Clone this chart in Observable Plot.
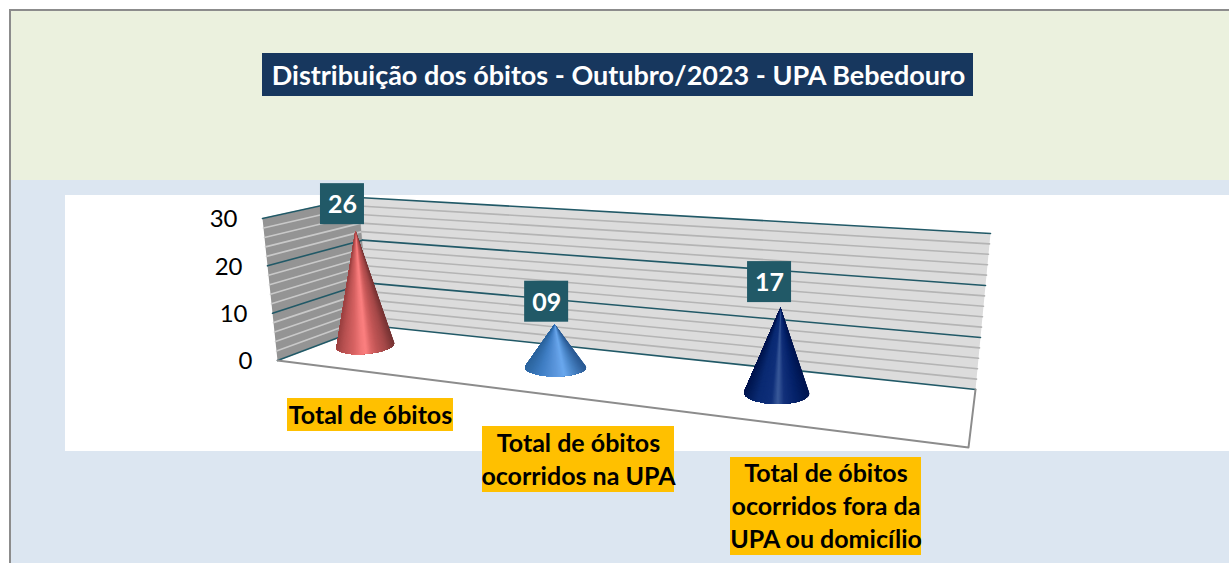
<!DOCTYPE html>
<html>
<head>
<meta charset="utf-8">
<style>html,body{margin:0;padding:0;background:#fff;overflow:hidden}svg{display:block}</style>
<script src="https://cdn.jsdelivr.net/npm/d3@7"></script>
<script src="https://cdn.jsdelivr.net/npm/@observablehq/plot@0.6"></script>
</head>
<body>
<div id="chart"></div>
<script>
const titleText = "Distribuição dos óbitos - Outubro/2023 - UPA Bebedouro";
const categories = ["Total de óbitos", "Total de óbitos\nocorridos na UPA", "Total de óbitos\nocorridos fora da\nUPA ou domicílio"];
const values = [26, 9, 17];
const valueLabels = ["26", "09", "17"];
const majorTicks = [0, 10, 20, 30];
const minorTicks = [2, 4, 6, 8, 12, 14, 16, 18, 22, 24, 26, 28];

// Layout of the perspective box (front/back, left/right, floor/top corners)
const corners = {
  fl0: [277, 360], fr0: [968, 447], bl0: [370, 325], br0: [975, 389],
  fl1: [262, 218], fr1: [985, 277], bl1: [358, 197], br1: [990, 233]
};
const coneU = [0.057, 0.3525, 0.696];
const coneDepth = 0.55;
const coneHeightFix = [0.975, 1, 0.98];
const coneRx = [29, 30.5, 32.5];
const coneRy = [8.5, 9, 11];
const coneTilt = [-0.086, 0, 0.015];
const labelDx = [-13, -8, -11];
const labelGapAboveTip = [26.5, 22.5, 25.5];
const shades = [
  [[0,"#9c4242"],[.1,"#b65050"],[.3,"#d96464"],[.42,"#f27878"],[.5,"#fc8080"],[.6,"#d86464"],[.7,"#c05555"],[.85,"#a44848"],[1,"#753333"]],
  [[0,"#2c659f"],[.25,"#3f7ec4"],[.5,"#5b96dc"],[.65,"#6aa8ee"],[.8,"#4a86c8"],[1,"#2a5a94"]],
  [[0,"#00164f"],[.2,"#0a2a72"],[.42,"#0f2f7a"],[.52,"#3a5a9a"],[.62,"#12307a"],[.8,"#05226a"],[1,"#001650"]]
];
const catBoxes = [[287,453,398,431],[482,674,426,492],[730,921,457,555]];

function lerp(a, b, t) { return [a[0] + (b[0]-a[0])*t, a[1] + (b[1]-a[1])*t]; }
// u: left→right, v: front→back, w: axis value 0–30
function project(u, v, w) {
  const c = corners, t = w / 30;
  const floor = lerp(lerp(c.fl0, c.fr0, u), lerp(c.bl0, c.br0, u), v);
  const top = lerp(lerp(c.fl1, c.fr1, u), lerp(c.bl1, c.br1, u), v);
  return lerp(floor, top, t);
}
const poly = (id, pts, extra = {}) => pts.map(p => ({id, x: p[0], y: p[1], ...extra}));

const sideWall = [project(0,0,0), project(0,1,0), project(0,1,30), project(0,0,30)];
const backWall = [project(0,1,0), project(1,1,0), project(1,1,30), project(0,1,30)];
const floorEdge = [project(0,0,0), project(1,0,0), project(1,1,0)];

const gridSeg = (w, a, b) => [a, b].map(p => project(p[0], p[1], w));
const gridRows = (ticks, pair, tag) => ticks.flatMap(w => poly(tag + w, gridSeg(w, pair[0], pair[1])));
const sideEnds = [[0,0],[0,1]], backEnds = [[0,1],[1,1]];

const coneTip = i => project(coneU[i], coneDepth, values[i] * coneHeightFix[i]);

// Cones: shaded as facets running from the tip to the base ellipse, each one
// overlapping the next so no seams appear between them.
const coneFacets = values.flatMap((val, i) => {
  const [cx, cy] = project(coneU[i], coneDepth, 0);
  const tip = coneTip(i);
  const rx = coneRx[i], ry = coneRy[i], tilt = coneTilt[i];
  const shade = d3.scaleLinear().domain(shades[i].map(s => s[0])).range(shades[i].map(s => s[1]));
  const a0 = -Math.asin(Math.min(1, ry / (cy - tip[1])));
  const a1 = Math.PI - a0;
  const n = 80, out = [];
  const pt = a => {
    const ex = rx * Math.cos(a), ey = ry * Math.sin(a);
    return [cx + ex*Math.cos(tilt) - ey*Math.sin(tilt), cy + ex*Math.sin(tilt) + ey*Math.cos(tilt)];
  };
  for (let k = 0; k < n; ++k) {
    const mid = a0 + (a1-a0)*(k+0.5)/n;
    // overlap: each facet reaches to the far end of the cone, later facets paint over it
    const arc = d3.range(k, n + 0.5, 1).map(j => pt(a0 + (a1-a0)*j/n));
    out.push(...poly(`c${i}-${k}`, [tip, ...arc], {c: shade((1 + Math.cos(mid)) / 2)}));
  }
  return out;
});
const tips = values.map((val, i) => {
  const p = coneTip(i);
  return {x: p[0] + labelDx[i], y: p[1] - labelGapAboveTip[i], t: valueLabels[i]};
});
const tickRows = majorTicks.map(w => { const p = project(0,0,w); return {x: p[0]-25, y: p[1]+1, t: String(w)}; });
const catRows = categories.map((t, i) => {
  const b = catBoxes[i];
  return {x1:b[0], x2:b[1], y1:b[2], y2:b[3], x:(b[0]+b[1])/2, y:(b[2]+b[3])/2, t};
});

const teal = "#215967";
const chart = Plot.plot({
  width: 1229, height: 563,
  marginTop: 0, marginRight: 0, marginBottom: 0, marginLeft: 0,
  x: {domain: [0, 1229], axis: null},
  y: {domain: [563, 0], axis: null},
  color: {type: "identity"},
  style: {fontFamily: "Lato, 'Open Sans', sans-serif", background: "#fff"},
  marks: [
    // panels
    Plot.rect([{}], {x1: 10, x2: 1229, y1: 10, y2: 180, fill: "#ebf1de"}),
    Plot.rect([{}], {x1: 10, x2: 1229, y1: 180, y2: 563, fill: "#dce6f1"}),
    Plot.rect([{}], {x1: 65, x2: 1229, y1: 195, y2: 451, fill: "#ffffff"}),
    Plot.ruleX([9.5], {y1: 9, y2: 563, stroke: "#8c8c8c", strokeWidth: 2}),
    Plot.ruleY([9.5], {x1: 9, x2: 1229, stroke: "#8c8c8c", strokeWidth: 2}),
    // walls
    Plot.line(poly("side", sideWall), {x: "x", y: "y", fill: "#949494", stroke: "#c4c4c4", strokeWidth: 1}),
    Plot.line(poly("back", backWall), {x: "x", y: "y", fill: "#dcdcdc"}),
    // gridlines
    Plot.line(gridRows(minorTicks, sideEnds, "sm"), {x: "x", y: "y", z: "id", stroke: "#c9c9c9", strokeWidth: 1.6}),
    Plot.line(gridRows(minorTicks, backEnds, "bm"), {x: "x", y: "y", z: "id", stroke: "#b4b4b4", strokeWidth: 1.6}),
    Plot.line(gridRows(majorTicks, sideEnds, "sM"), {x: "x", y: "y", z: "id", stroke: teal, strokeWidth: 1.6}),
    Plot.line(gridRows(majorTicks, backEnds, "bM"), {x: "x", y: "y", z: "id", stroke: teal, strokeWidth: 1.6}),
    // floor edge
    Plot.line(poly("floor", floorEdge), {x: "x", y: "y", stroke: "#8c8c8c", strokeWidth: 2}),
    // cones
    Plot.line(coneFacets, {x: "x", y: "y", z: "id", fill: "c"}),
    // value labels
    Plot.rect(tips, {x1: d => d.x - 22, x2: d => d.x + 22, y1: d => d.y - 20.5, y2: d => d.y + 20.5, fill: teal}),
    Plot.text(tips, {x: "x", y: d => d.y + 1, text: "t", fill: "#fff", fontSize: 25, fontWeight: "bold", lineAnchor: "middle"}),
    // axis labels
    Plot.text(tickRows, {x: "x", y: "y", text: "t", fill: "#000", fontSize: 24, textAnchor: "end", lineAnchor: "middle"}),
    // category labels
    Plot.rect(catRows, {x1: "x1", x2: "x2", y1: "y1", y2: "y2", fill: "#ffc000"}),
    Plot.text(catRows, {x: "x", y: d => d.y - 2, text: "t", fill: "#000", fontSize: 25, fontWeight: "bold", lineAnchor: "middle", lineHeight: 1.32}),
    // title
    Plot.rect([{}], {x1: 262, x2: 973, y1: 53, y2: 96, fill: "#17375e"}),
    Plot.text([titleText], {x: 618, y: 76, text: d => d, fill: "#fff", fontSize: 27, fontWeight: "bold", lineAnchor: "middle"})
  ]
});
document.getElementById("chart").appendChild(chart);
</script>
</body>
</html>
